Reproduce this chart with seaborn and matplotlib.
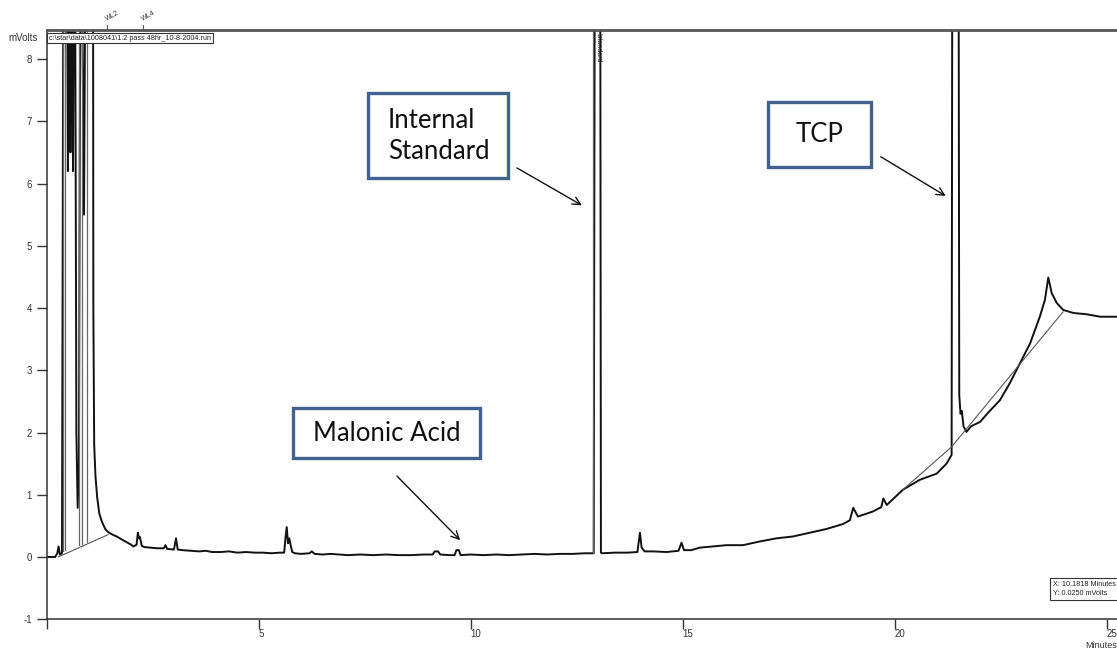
import matplotlib
matplotlib.use("Agg")
import matplotlib.pyplot as plt
from matplotlib.patches import Rectangle
import seaborn as sns
import pandas as pd

# ---- detector trace (minutes, mV); values above the axis top are off-scale peaks ----
time_min = [
    0.00, 0.20, 0.25, 0.28, 0.31, 0.36, 0.40, 0.47, 0.50, 0.53, 0.56, 0.59,
    0.62, 0.66, 0.70, 0.73, 0.76, 0.80, 0.88, 0.93, 1.03, 1.09, 1.10, 1.12,
    1.15, 1.19, 1.24, 1.30, 1.38, 1.45, 1.55, 1.65, 1.80, 1.96, 2.05, 2.12,
    2.15, 2.18, 2.20, 2.24, 2.30, 2.45, 2.60, 2.76, 2.80, 2.84, 3.00, 3.05,
    3.09, 3.20, 3.40, 3.60, 3.75, 3.90, 4.10, 4.30, 4.50, 4.70, 4.90, 5.10,
    5.30, 5.50, 5.60, 5.63, 5.66, 5.69, 5.72, 5.75, 5.79, 5.85, 6.00, 6.20,
    6.25, 6.32, 6.50, 6.70, 6.90, 7.10, 7.40, 7.70, 8.00, 8.30, 8.60, 8.90,
    9.10, 9.15, 9.23, 9.28, 9.50, 9.62, 9.66, 9.72, 9.76, 10.00, 10.30, 10.60,
    10.90, 11.20, 11.50, 11.80, 12.10, 12.40, 12.70, 12.90, 12.93, 13.05, 13.07, 13.10,
    13.40, 13.70, 13.93, 13.99, 14.03, 14.10, 14.30, 14.62, 14.90, 14.97, 15.03, 15.20,
    15.40, 15.64, 16.03, 16.42, 16.82, 17.21, 17.60, 18.00, 18.39, 18.78, 18.94, 19.02,
    19.13, 19.48, 19.68, 19.73, 19.81, 20.19, 20.59, 20.99, 21.22, 21.34, 21.36, 21.50,
    21.52, 21.55, 21.58, 21.62, 21.69, 21.80, 22.01, 22.19, 22.48, 22.71, 22.95, 23.19,
    23.42, 23.54, 23.62, 23.70, 23.82, 23.97, 24.21, 24.52, 24.84, 25.24,
]
signal_mv = [
    0.00, 0.00, 0.06, 0.17, 0.04, 0.06, 12.0, 12.0, 6.20, 12.0, 6.50, 12.0,
    6.20, 12.0, 2.00, 0.79, 1.50, 12.0, 5.50, 12.0, 12.0, 12.0, 4.00, 1.80,
    1.30, 0.96, 0.70, 0.57, 0.45, 0.40, 0.36, 0.33, 0.27, 0.21, 0.17, 0.20,
    0.39, 0.30, 0.32, 0.18, 0.16, 0.15, 0.14, 0.14, 0.19, 0.13, 0.12, 0.30,
    0.12, 0.11, 0.10, 0.09, 0.10, 0.08, 0.08, 0.09, 0.07, 0.08, 0.07, 0.07,
    0.06, 0.07, 0.07, 0.30, 0.48, 0.22, 0.30, 0.20, 0.08, 0.06, 0.05, 0.06,
    0.09, 0.05, 0.04, 0.05, 0.04, 0.03, 0.04, 0.03, 0.04, 0.03, 0.03, 0.04,
    0.04, 0.09, 0.09, 0.04, 0.03, 0.03, 0.11, 0.11, 0.03, 0.04, 0.03, 0.04,
    0.03, 0.04, 0.05, 0.04, 0.05, 0.05, 0.06, 0.06, 12.0, 12.0, 0.07, 0.06,
    0.07, 0.07, 0.08, 0.39, 0.15, 0.09, 0.09, 0.08, 0.10, 0.23, 0.11, 0.11,
    0.15, 0.165, 0.19, 0.19, 0.25, 0.30, 0.33, 0.39, 0.45, 0.53, 0.59, 0.79,
    0.65, 0.73, 0.80, 0.94, 0.835, 1.08, 1.24, 1.34, 1.50, 1.64, 12.0, 12.0,
    2.60, 2.30, 2.35, 2.10, 2.01, 2.10, 2.17, 2.31, 2.52, 2.79, 3.11, 3.43,
    3.86, 4.13, 4.49, 4.24, 4.08, 3.97, 3.92, 3.90, 3.86, 3.86,
]

# ---- integration baselines (start time, start mV, end time, end mV) ----
base_t0 = [0.27, 20.19, 21.34]
base_v0 = [0.00, 1.08, 1.77]
base_t1 = [1.45, 21.34, 23.97]
base_v1 = [0.36, 1.77, 3.94]

# ---- peak drop lines (time, mV at foot) ----
drop_t = [0.377, 0.43, 0.769, 0.826, 0.943, 12.88]
drop_v = [0.10, 0.12, 0.20, 0.21, 0.24, 0.06]

# ---- axes ----
x_ticks = [0, 5, 10, 15, 20, 25]
x_tick_labels = ["", "5", "10", "15", "20", "25"]
y_ticks = [-1, 0, 1, 2, 3, 4, 5, 6, 7, 8]
y_tick_labels = ["-1", "0", "1", "2", "3", "4", "5", "6", "7", "8"]
x_max = 25.24
y_min, y_max = -1.0, 8.466

# ---- callouts: label, box (t0, t1, v_bottom, v_top), arrow tail, arrow tip ----
callout_labels = ["Internal\nStandard", "TCP", "Malonic Acid"]
callout_boxes = [(7.58, 10.88, 6.09, 7.45), (17.01, 19.43, 6.27, 7.31), (5.81, 10.22, 1.59, 2.39)]
callout_tails = [(11.09, 6.25), (19.67, 6.43), (8.26, 1.30)]
callout_tips = [(12.62, 5.65), (21.20, 5.80), (9.75, 0.27)]

event_times = [1.42, 2.27]
event_labels = ["WL2", "WL4"]

sns.set_theme(style="white")
plt.rcParams["font.family"] = ["Liberation Sans", "DejaVu Sans"]

W, H = 1117, 650
fig = plt.figure(figsize=(W / 100, H / 100), dpi=100)
ax = fig.add_axes([46.7 / W, (H - 619.25) / H, 1 - 46.7 / W, (619.25 - 30) / H])

trace = pd.DataFrame({"time": time_min, "mv": signal_mv})
sns.lineplot(data=trace, x="time", y="mv", ax=ax, color="#111111", linewidth=1.4,
             estimator=None, sort=False)

for t0, v0, t1, v1 in zip(base_t0, base_v0, base_t1, base_v1):
    ax.plot([t0, t1], [v0, v1], color="#555555", linewidth=0.8)
for t, v in zip(drop_t, drop_v):
    ax.plot([t, t], [v, 12.0], color="#666666", linewidth=0.9)

ax.set_xlim(0, x_max)
ax.set_ylim(y_min, y_max)
ax.set_xticks(x_ticks)
ax.set_xticklabels(x_tick_labels)
ax.set_yticks(y_ticks)
ax.set_yticklabels(y_tick_labels)
ax.set_xlabel("")
ax.set_ylabel("")
ax.tick_params(axis="both", which="both", direction="out", length=7, width=1,
               color="#333333", labelcolor="#333333", labelsize=7, bottom=True, left=True)
ax.tick_params(axis="x", pad=0)
for lbl in ax.get_xticklabels():
    lbl.set_horizontalalignment("left")
for side in ["left", "bottom"]:
    ax.spines[side].set_color("#333333")
    ax.spines[side].set_linewidth(1.1)
ax.spines["top"].set_color("#555555")
ax.spines["top"].set_linewidth(2.0)
ax.spines["right"].set_visible(False)

# callout boxes and arrows
callout_font = ["Lato", "DejaVu Sans"]
for label, (t0, t1, vb, vt), tail, tip in zip(callout_labels, callout_boxes,
                                              callout_tails, callout_tips):
    ax.add_patch(Rectangle((t0, vb), t1 - t0, vt - vb, facecolor="white",
                           edgecolor="#41618F", linewidth=2.4, zorder=5))
    if "\n" in label:
        ax.text(t0 + 0.47, (vb + vt) / 2, label, ha="left", va="center",
                fontsize=18.5, family=callout_font, linespacing=1.3,
                color="#111111", zorder=6)
    else:
        ax.text((t0 + t1) / 2, (vb + vt) / 2, label, ha="center", va="center",
                fontsize=18.5, family=callout_font, color="#111111", zorder=6)
    ax.annotate("", xy=tip, xytext=tail,
                arrowprops=dict(arrowstyle="->", color="#111111", lw=1.0,
                                mutation_scale=14, shrinkA=0, shrinkB=0))

# peak name written inside the internal standard peak
ax.text(13.0, y_max - 0.05, "Istandard", rotation=-90, ha="center", va="top",
        fontsize=5, color="#222222")

# timed events above the frame
for t, lab in zip(event_times, event_labels):
    ax.plot([t, t], [y_max, y_max + 0.08], color="#555555", linewidth=0.8, clip_on=False)
    ax.text(t - 0.05, y_max + 0.12, lab, rotation=30, ha="left", va="bottom",
            fontsize=5, color="#333333")

# file name and cursor read-out
fig.text(49 / W, 1 - 38 / H, r"c:\star\data\1008041\1.2 pass 48hr_10-8-2004.run",
         fontsize=5.2, ha="left", va="center", color="#222222",
         bbox=dict(boxstyle="square,pad=0.25", facecolor="white", edgecolor="#333333",
                   linewidth=0.8))
fig.text(1053 / W, 1 - 589 / H, "X: 10.1818 Minutes\nY: 0.0250 mVolts", fontsize=5.2,
         ha="left", va="center", color="#222222", linespacing=1.5,
         bbox=dict(boxstyle="square,pad=0.35", facecolor="white", edgecolor="#333333",
                   linewidth=0.8))

fig.text(8 / W, 1 - 38 / H, "mVolts", fontsize=7, ha="left", va="center", color="#333333")
fig.text(1085 / W, 1 - 646 / H, "Minutes", fontsize=6.5, ha="left", va="center",
         color="#333333")

fig.savefig("out.png", dpi=100, facecolor="white")
